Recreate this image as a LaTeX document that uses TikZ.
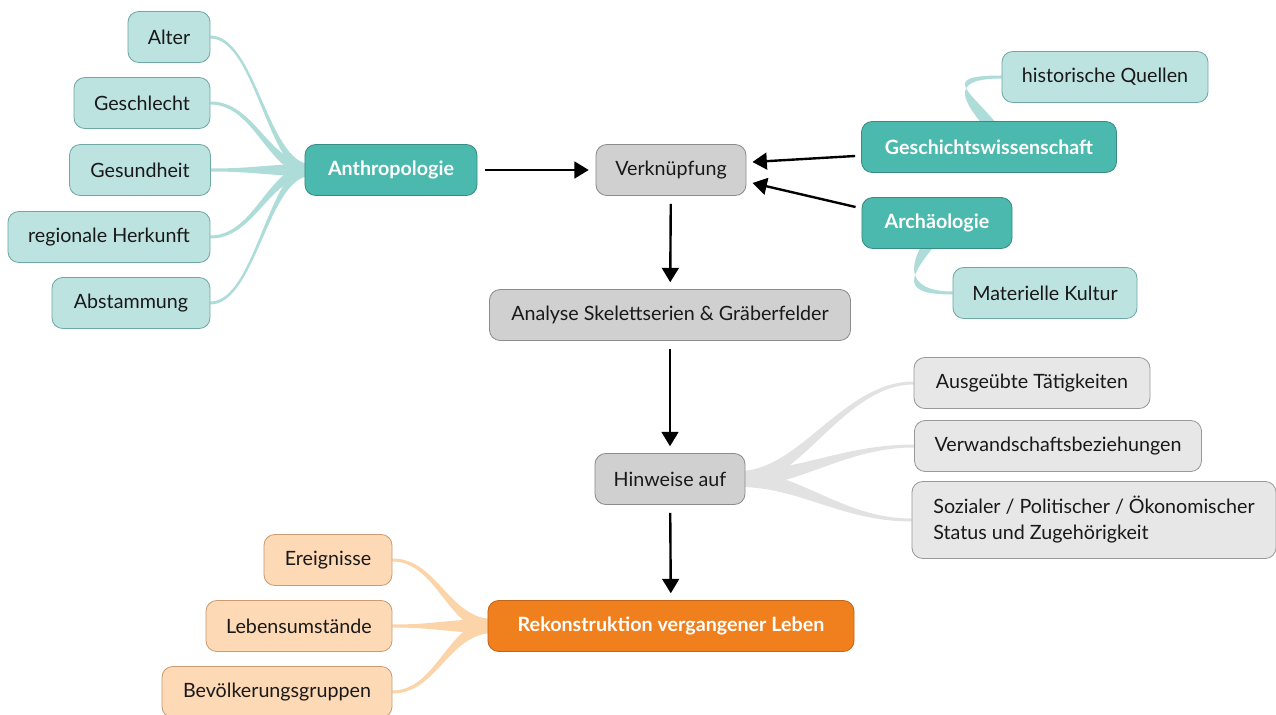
\documentclass[tikz,border=0pt]{standalone}
\usepackage{fontspec}
\setmainfont{Lato}
\usetikzlibrary{arrows.meta,positioning,calc,backgrounds}

\definecolor{tealdark}{HTML}{4BB9AD}
\definecolor{teallight}{HTML}{BDE3E1}
\definecolor{tealbranch}{HTML}{ADDCD9}
\definecolor{tealline}{HTML}{6FA9A4}
\definecolor{grayfill}{HTML}{D0D0D0}
\definecolor{graylight}{HTML}{E7E7E7}
\definecolor{graybranch}{HTML}{E2E2E2}
\definecolor{orangedark}{HTML}{F07F1E}
\definecolor{orangelight}{HTML}{FDD9B6}
\definecolor{orangeline}{HTML}{C99C72}
\definecolor{orangebranch}{HTML}{FBD4AA}

% tapered branch: colour, hub, leaf, hub control, leaf control, hub half width
\newcommand{\branch}[6]{%
  \fill[#1] ($(#2)+(0,-#6)$) .. controls ($(#2)+(#4)+(0,-#6)$) and ($(#3)+(#5)+(0,-1.5)$) .. ($(#3)+(0,-1.5)$)
    -- ($(#3)+(0,1.5)$) .. controls ($(#3)+(#5)+(0,1.5)$) and ($(#2)+(#4)+(0,#6)$) .. ($(#2)+(0,#6)$) -- cycle;}

\begin{document}
\begin{tikzpicture}[
    x=0.025cm, y=-0.025cm,
    box/.style={draw, rounded corners=0.27cm, minimum height=1.275cm, inner sep=0pt,
      line width=0.6pt, text=black!90, font=\fontsize{14}{18.5}\selectfont},
    tealleaf/.style={box, fill=teallight, draw=tealline},
    tealmain/.style={box, fill=tealdark, draw=tealdark!75!black, text=white,
      font=\fontsize{14}{18.5}\selectfont\bfseries},
    graynode/.style={box, fill=grayfill, draw=black!45},
    grayleaf/.style={box, fill=graylight, draw=black!40},
    orangemain/.style={box, fill=orangedark, draw=orangedark!80!black, text=white,
      font=\fontsize{14}{18.5}\selectfont\bfseries},
    orangeleaf/.style={box, fill=orangelight, draw=orangeline},
    flow/.style={-{Triangle[length=0.36cm,width=0.42cm]}, line width=1.7pt,
      shorten <=0.2cm, shorten >=0.17cm}
]
\useasboundingbox (0,0) rectangle (1276,715);

% Anthropologie and its aspects
\node[tealmain, minimum width=4.3cm] (anth) at (391,170) {Anthropologie};
\node[tealleaf, minimum width=2.05cm] (alter) at (169,37) {Alter};
\node[tealleaf, minimum width=3.4cm] (geschl) at (142,103) {Geschlecht};
\node[tealleaf, minimum width=3.525cm] (gesund) at (140,170) {Gesundheit};
\node[tealleaf, minimum width=5.05cm] (herk) at (109,237) {regionale Herkunft};
\node[tealleaf, minimum width=3.95cm] (abst) at (131,303) {Abstammung};

% central column
\node[graynode, minimum width=3.75cm] (verk) at (671,170) {Verknüpfung};
\node[graynode, minimum width=9.025cm] (ana) at (670,315) {Analyse Skelettserien \& Gräberfelder};
\node[graynode, minimum width=3.75cm] (hin) at (670,479) {Hinweise auf};
\node[orangemain, minimum width=9.15cm] (rek) at (671,626) {Rekonstruktion vergangener Leben};

% other disciplines
\node[tealmain, minimum width=6.375cm] (gesch) at (989,147) {Geschichtswissenschaft};
\node[tealleaf, minimum width=5.15cm] (quell) at (1105,77) {historische Quellen};
\node[tealmain, minimum width=3.75cm] (arch) at (937,223) {Archäologie};
\node[tealleaf, minimum width=4.6cm] (kult) at (1045,293) {Materielle Kultur};

% hints
\node[grayleaf, minimum width=5.9cm] (taet) at (1032,383) {Ausgeübte Tätigkeiten};
\node[grayleaf, minimum width=7.175cm] (verw) at (1058,446) {Verwandschaftsbeziehungen};
\node[grayleaf, minimum width=9.1cm, minimum height=1.925cm, align=left] (soz) at (1094,520)
  {Sozialer / Politischer / Ökonomischer\\Status und Zugehörigkeit};

% reconstruction
\node[orangeleaf, minimum width=3.2cm] (ereig) at (328,560) {Ereignisse};
\node[orangeleaf, minimum width=4.65cm] (leben) at (299,626) {Lebensumstände};
\node[orangeleaf, minimum width=5.75cm] (bevoel) at (277,692) {Bevölkerungsgruppen};

% branches
\begin{scope}[on background layer]
  \coordinate (anthhub) at ($(anth.west)+(6,0)$);
  \foreach \c in {alter,geschl,gesund,herk,abst}
    \branch{tealbranch}{anthhub}{\c.east}{-42,0}{45,0}{6};
  \coordinate (geschhub) at ($(gesch.north)+(8,12)$);
  \branch{tealbranch}{geschhub}{quell.west}{-28,-34}{-62,0}{9};
  \coordinate (archhub) at ($(arch.south)+(-5,-9)$);
  \branch{tealbranch}{archhub}{kult.west}{-26,32}{-48,0}{9};
  \coordinate (hinhub) at ($(hin.east)+(-6,0)$);
  \foreach \c in {taet,verw,soz}
    \branch{graybranch}{hinhub}{\c.west}{60,0}{-70,0}{8};
  \coordinate (rekhub) at ($(rek.west)+(6,0)$);
  \foreach \c in {ereig,leben,bevoel}
    \branch{orangebranch}{rekhub}{\c.east}{-45,0}{45,0}{7};
\end{scope}

% arrows
\draw[flow] (anth) -- (verk);
\draw[flow, shorten <=0pt, shorten >=0pt] ($(gesch.west)+(-6,9)$) -- ($(verk.east)+(6,-8)$);
\draw[flow, shorten <=0pt, shorten >=0pt] ($(arch.west)+(-6,-16)$) -- ($(verk.east)+(6,13)$);
\draw[flow] (verk) -- (ana);
\draw[flow] (ana) -- (hin);
\draw[flow] (hin) -- (rek);

\end{tikzpicture}
\end{document}
